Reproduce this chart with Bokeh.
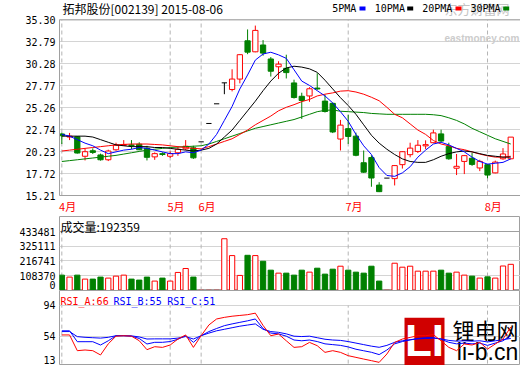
from bokeh.plotting import figure
from bokeh.layouts import column
from bokeh.models import (Range1d, FixedTicker, Label, BoxAnnotation, Span,
                          PrintfTickFormatter)
from bokeh.embed import file_html
from bokeh.resources import INLINE

# ---------------- data ----------------
stock_title = "拓邦股份[002139] 2015-08-06"
ma_names = ["5PMA", "10PMA", "20PMA", "30PMA"]
month_labels = ["4月", "5月", "6月", "7月", "8月"]
month_pos = [0, 14, 18, 37, 55]
price_ticks = [15.21, 17.72, 20.23, 22.74, 25.26, 27.77, 30.28, 32.79, 35.30]
vol_ticks = [0, 108370, 216741, 325111, 433481]
rsi_ticks = [13, 54, 94]

open_ = [22.25, 21.9, 21.92, 19.70, 20.33, 19.85, 19.30, 20.44, 20.95, 21.0,
         21.08, 20.63, 19.63, 20.0, 19.7, 20.1, 20.55, 20.66, 21.35, 23.45,
         25.7, 28.1, 27.34, 28.53, 32.91, 31.65, 32.43, 30.83, 29.94, 29.76,
         28.09, 26.56, 26.6, 27.5, 26.01, 25.75, 21.67, 22.86, 22.0, 18.96,
         19.55, 16.4, 17.2, 17.14, 18.74, 19.88, 20.25, 20.89, 21.25, 22.26,
         20.81, 18.33, 19.11, 19.47, 18.36, 18.74, 17.80, 19.41, 19.41]
high = [22.4, 22.37, 22.0, 20.59, 20.6, 20.0, 20.45, 21.25, 21.55, 21.55,
        21.3, 20.89, 20.14, 20.15, 20.25, 20.8, 21.55, 20.9, 21.35, 23.45,
        25.7, 28.1, 29.65, 31.4, 34.21, 34.65, 32.99, 31.05, 30.57, 31.32,
        28.46, 26.97, 27.6, 29.2, 26.75, 25.85, 23.86, 24.45, 22.4, 20.36,
        19.81, 16.73, 17.2, 18.7, 20.3, 21.25, 21.55, 21.52, 22.74, 22.74,
        21.25, 19.96, 19.85, 20.07, 19.3, 18.8, 19.2, 20.63, 21.89]
low = [21.1, 21.55, 20.0, 19.22, 19.96, 19.2, 19.15, 20.33, 20.89, 20.52,
       20.4, 19.22, 19.29, 19.75, 19.5, 19.75, 20.4, 19.4, 21.35, 23.45,
       25.7, 26.8, 27.12, 28.04, 31.38, 31.6, 31.2, 28.82, 28.53, 28.6,
       26.3, 23.97, 25.93, 27.3, 24.7, 22.35, 20.36, 21.11, 19.7, 17.8,
       16.21, 15.6, 17.2, 16.36, 18.29, 19.58, 20.07, 20.52, 21.2, 21.3,
       19.3, 17.55, 17.66, 18.6, 18.0, 17.18, 17.75, 19.3, 19.35]
close_ = [22.05, 22.0, 20.07, 20.22, 20.14, 19.3, 20.3, 20.96, 21.05, 20.92,
          20.44, 19.58, 20.0, 19.9, 20.0, 20.5, 20.85, 19.52, 21.35, 23.45,
          25.7, 28.1, 28.53, 31.32, 31.61, 34.10, 31.5, 29.43, 30.24, 29.27,
          26.42, 26.08, 27.42, 27.4, 24.82, 22.48, 23.26, 21.97, 19.81, 17.88,
          17.21, 15.65, 17.2, 18.63, 20.22, 20.63, 20.96, 21.03, 22.37, 21.44,
          19.41, 18.55, 19.77, 18.77, 19.11, 17.55, 19.03, 19.96, 21.89]
volume = [112900, 98400, 112900, 83800, 83800, 98400, 91100, 105600, 112900, 83800,
          76500, 98400, 69200, 91100, 69200, 132600, 161700, 98400, 1500, 1500,
          1500, 380300, 256500, 110700, 258600, 256500, 214900, 149400, 127500, 127500,
          112900, 149400, 134800, 163900, 120200, 156600, 178500, 149400, 134800, 127500,
          178500, 69200, 1500, 200400, 171200, 178500, 142100, 142100, 142100, 149400,
          127500, 134800, 112900, 105600, 91100, 100500, 91100, 180000, 192359]
ma5 = [22.2, 22.0, 21.6, 21.2, 20.9, 20.4, 20.0, 20.2, 20.4, 20.5,
       20.7, 20.6, 20.4, 20.2, 20.0, 20.0, 20.2, 20.1, 20.4, 21.1,
       22.2, 23.8, 25.4, 27.4, 29.0, 30.7, 31.4, 31.6, 31.3, 30.9,
       29.6, 28.3, 27.8, 27.2, 26.6, 25.8, 24.8, 23.7, 22.2, 20.9,
       19.9, 18.4, 17.5, 17.4, 17.8, 18.5, 19.6, 20.4, 21.1, 21.3,
       21.0, 20.6, 20.2, 19.6, 19.1, 18.8, 18.9, 19.0, 19.4]
ma10 = [22.0, 22.0, 22.0, 22.0, 21.9, 21.6, 21.3, 21.0, 20.9, 20.8,
        20.8, 20.8, 20.7, 20.7, 20.6, 20.5, 20.4, 20.3, 20.4, 20.6,
        21.1, 21.9, 22.7, 23.8, 24.9, 26.0, 27.2, 28.3, 29.2, 29.8,
        30.0, 29.9, 29.7, 29.3, 28.4, 27.4, 26.4, 25.5, 24.5, 23.3,
        22.1, 21.2, 20.5, 19.9, 19.4, 19.1, 19.0, 19.0, 19.3, 19.7,
        20.0, 20.2, 20.3, 20.2, 20.0, 19.8, 19.7, 19.6, 19.6]
ma20 = [20.3, 20.4, 20.5, 20.6, 20.7, 20.8, 20.9, 21.0, 21.05, 21.1,
        21.1, 21.1, 21.05, 21.0, 20.9, 20.8, 20.7, 20.6, 20.55, 20.8,
        21.1, 21.4, 21.7, 22.2, 22.7, 23.3, 23.8, 24.3, 24.9, 25.3,
        25.6, 25.95, 26.2, 26.6, 26.8, 26.95, 27.15, 27.2, 27.05, 26.8,
        26.45, 26.05, 25.3, 24.5, 24.1, 23.4, 22.7, 22.2, 21.5, 21.1,
        20.9, 20.6, 20.45, 20.2, 19.95, 19.75, 19.6, 19.6, 19.7]
ma30 = [19.1, 19.2, 19.3, 19.4, 19.5, 19.6, 19.7, 19.8, 19.95, 20.1,
        20.25, 20.4, 20.5, 20.6, 20.7, 20.75, 20.8, 20.85, 20.9, 21.1,
        21.4, 21.7, 22.0, 22.3, 22.6, 22.9, 23.1, 23.3, 23.5, 23.7,
        23.9, 24.2, 24.5, 24.8, 24.95, 25.0, 24.85, 24.8, 24.75, 24.7,
        24.6, 24.55, 24.5, 24.5, 24.5, 24.5, 24.5, 24.5, 24.45, 24.35,
        24.1, 23.8, 23.4, 22.9, 22.5, 22.1, 21.7, 21.4, 21.1]
rsi_a = [55.6, 55.6, 35.1, 36.0, 35.1, 29.5, 44.0, 54.0, 54.6, 54.0,
         48.1, 36.4, 40.3, 39.4, 42.5, 50.3, 55.6, 39.4, 54.6, 68.6,
         76.4, 78.5, 80.0, 81.0, 82.0, 84.0, 68.0, 54.6, 56.8, 48.0,
         39.4, 40.3, 45.9, 41.6, 32.9, 35.1, 32.9, 28.6, 26.4, 24.2,
         22.1, 19.9, 30.8, 45.9, 50.3, 52.4, 54.6, 54.6, 56.0, 48.0,
         39.4, 35.1, 43.8, 42.5, 45.9, 37.2, 43.8, 50.3, 66.0]
rsi_b = [61, 61, 46.8, 46.8, 46.8, 42.5, 48, 54.6, 54.6, 54,
         51, 43.8, 46, 46, 47, 50, 54.6, 46, 54.6, 60,
         64, 67.7, 70, 72, 74, 76.4, 64, 58, 57, 54,
         49, 48, 49, 47, 44, 43, 42, 40, 37, 35,
         33, 30, 36, 44, 47, 49, 51, 52, 52, 50,
         46, 44, 45, 44, 45, 42, 45, 48, 55]
rsi_c = [60, 60, 53.4, 52.5, 52, 51.5, 52.5, 54.6, 54.6, 54.4,
         53, 50.3, 50.5, 50.5, 50.5, 51.5, 53.5, 50.3, 54.6, 58,
         61, 63, 65, 67, 68.5, 70, 63, 60, 59, 57,
         54, 53.5, 54, 52, 50, 49, 48.5, 47, 45, 43,
         41, 39.5, 42, 46, 48, 49.5, 50.5, 51, 51.5, 50.5,
         48.5, 47.5, 48, 47.5, 48, 46.5, 48, 49.5, 51]

# ---------------- styling ----------------
RED = "#ff0000"
GREEN = "#008000"
BLUE = "#0000ff"
GRID = "#d4d4d4"
FRAME = "#a0a0a0"
DASH = "#b4b4b4"
MONO = "DejaVu Sans Mono"
CJK = "Noto Sans CJK SC"
HW = 0.34  # half candle width in days

n = len(close_)
idx = list(range(n))
xr = Range1d(-0.3, 59.26)


def base(h, yr, top, bottom, outline=True):
    p = figure(width=520, height=h, x_range=xr, y_range=yr, title=None,
               output_backend="svg", toolbar_location=None,
               min_border_left=59, min_border_right=0,
               min_border_top=top, min_border_bottom=bottom)
    p.outline_line_color = FRAME if outline else None
    p.background_fill_color = "white"
    p.border_fill_color = "white"
    ax = p.yaxis[0]
    ax.axis_line_color = None
    ax.major_tick_line_color = None
    ax.minor_tick_line_color = None
    ax.major_tick_out = 0
    ax.major_tick_in = 0
    ax.minor_tick_out = 0
    ax.major_label_standoff = 4
    ax.major_label_text_font = MONO
    ax.major_label_text_font_size = "10px"
    ax.major_label_text_color = "black"
    p.ygrid.grid_line_color = GRID
    p.xgrid.grid_line_color = None
    return p


def label(p, fx, fy, text, color="black", size="12px", font=CJK,
          style="normal", align="left", level="annotation"):
    p.add_layout(Label(x=fx, y=fy, x_units="screen", y_units="screen", text=text,
                       text_color=color, text_font_size=size, text_font=font,
                       text_font_style=style, text_align=align,
                       text_baseline="middle", level=level))


# ---------------- price panel ----------------
# frame reaches the top of the page so the header texts sit inside it
px_per_unit = 181 / (price_ticks[-1] - price_ticks[0])
p1 = base(216, Range1d(price_ticks[0], price_ticks[-1] + 20 / px_per_unit), 0, 15,
          outline=False)
p1.yaxis.ticker = FixedTicker(ticks=price_ticks)
p1.yaxis.formatter = PrintfTickFormatter(format="%.2f")
p1.yaxis.bounds = (price_ticks[0], price_ticks[-1])
p1.yaxis.axis_line_color = FRAME
p1.ygrid.ticker = FixedTicker(ticks=price_ticks)
p1.add_layout(Span(location=price_ticks[-1], dimension="width", line_color=FRAME,
                   line_width=1))
p1.segment(x0=month_pos, y0=[price_ticks[0]] * len(month_pos), x1=month_pos,
           y1=[price_ticks[-1]] * len(month_pos), line_color=DASH, line_dash="4 3")
xa = p1.xaxis[0]
lab_ticks = [m + 0.75 for m in month_pos]
xa.ticker = FixedTicker(ticks=lab_ticks)
xa.major_label_overrides = {t: s for t, s in zip(lab_ticks, month_labels)}
xa.axis_line_color = FRAME
xa.major_tick_line_color = None
xa.minor_tick_line_color = None
xa.major_tick_out = 0
xa.major_tick_in = 0
xa.major_label_standoff = 2
xa.major_label_text_font = CJK
xa.major_label_text_font_size = "11px"
xa.major_label_text_color = RED

# watermark (eastmoney), drawn first so the legend lies on top of it
label(p1, 385, 187, "东方财富网", color="#c4c4c4", size="13px")
label(p1, 385, 157.5, "eastmoney.com", color="#cccccc", size="10px", font="Liberation Sans",
      style="bold")

up_i = [i for i in idx if close_[i] > open_[i]]
dn_i = [i for i in idx if close_[i] < open_[i]]
fl_i = [i for i in idx if close_[i] == open_[i]]

# red (up) candles: hollow
p1.segment(x0=up_i, y0=[high[i] for i in up_i], x1=up_i,
           y1=[close_[i] for i in up_i], line_color=RED, line_width=1)
p1.segment(x0=up_i, y0=[open_[i] for i in up_i], x1=up_i,
           y1=[low[i] for i in up_i], line_color=RED, line_width=1)
p1.quad(left=[i - HW for i in up_i], right=[i + HW for i in up_i],
        top=[close_[i] for i in up_i], bottom=[open_[i] for i in up_i],
        fill_color="white", line_color=RED, line_width=1)
# green (down) candles: filled
p1.segment(x0=dn_i, y0=[high[i] for i in dn_i], x1=dn_i,
           y1=[low[i] for i in dn_i], line_color=GREEN, line_width=1)
p1.quad(left=[i - HW for i in dn_i], right=[i + HW for i in dn_i],
        top=[open_[i] for i in dn_i], bottom=[close_[i] for i in dn_i],
        fill_color=GREEN, line_color=GREEN, line_width=1)
# flat candles: black
p1.segment(x0=fl_i, y0=[high[i] for i in fl_i], x1=fl_i,
           y1=[low[i] for i in fl_i], line_color="black", line_width=1)
p1.segment(x0=[i - HW for i in fl_i], y0=[open_[i] for i in fl_i],
           x1=[i + HW for i in fl_i], y1=[open_[i] for i in fl_i],
           line_color="black", line_width=1)

# moving averages
p1.line(idx, ma30, line_color=GREEN, line_width=1)
p1.line(idx, ma20, line_color=RED, line_width=1)
p1.line(idx, ma10, line_color="black", line_width=1)
p1.line(idx, ma5, line_color=BLUE, line_width=1)

# header title and legend
label(p1, 3, 187, stock_title, size="12px")
legend_x = [272.7, 315.3, 362.7, 411.0]
mark_x = [300.0, 347.7, 396.0, 443.7]
ma_colors = [BLUE, "black", RED, GREEN]
for nm, tx, mx, col in zip(ma_names, legend_x, mark_x, ma_colors):
    label(p1, tx, 187, nm, font=MONO, size="10px")
    p1.add_layout(BoxAnnotation(left=mx, right=mx + 6, top=189, bottom=185,
                                left_units="screen", right_units="screen",
                                top_units="screen", bottom_units="screen",
                                fill_color=col, fill_alpha=1.0, line_color=None))

# ---------------- volume panel ----------------
vol_top = vol_ticks[-1] * 74 / 59
p2 = base(74, Range1d(0, vol_top), 0, 0)
p2.xaxis.visible = False
zero_lab = 40400
p2.yaxis.ticker = FixedTicker(ticks=[zero_lab] + vol_ticks[1:])
p2.yaxis.formatter = PrintfTickFormatter(format="%d")
p2.yaxis.major_label_overrides = {zero_lab: "0"}
p2.ygrid.ticker = FixedTicker(ticks=vol_ticks)
p2.add_layout(Span(location=vol_ticks[-1], dimension="width", line_color=FRAME, line_width=1))
p2.segment(x0=month_pos, y0=[0] * len(month_pos), x1=month_pos,
           y1=[vol_ticks[-1]] * len(month_pos), line_color=DASH, line_dash="4 3")
vu = [i for i in idx if close_[i] >= open_[i]]
vd = [i for i in idx if close_[i] < open_[i]]
p2.quad(left=[i - HW for i in vu], right=[i + HW for i in vu],
        top=[volume[i] for i in vu], bottom=[0] * len(vu),
        fill_color="white", line_color=RED, line_width=1)
p2.quad(left=[i - HW for i in vd], right=[i + HW for i in vd],
        top=[volume[i] for i in vd], bottom=[0] * len(vd),
        fill_color=GREEN, line_color=GREEN, line_width=1)
label(p2, 1, 64, "成交量:%d" % volume[-1], size="12px")

# ---------------- RSI panel ----------------
p3 = base(75, Range1d(15.8, 113.5), 0, 0)
p3.xaxis.visible = False
rsi_lab13 = 23.2
p3.yaxis.ticker = FixedTicker(ticks=[rsi_lab13, 54, 94])
p3.yaxis.formatter = PrintfTickFormatter(format="%d")
p3.yaxis.major_label_overrides = {rsi_lab13: "13"}
p3.ygrid.ticker = FixedTicker(ticks=rsi_ticks)
p3.segment(x0=month_pos, y0=[0] * len(month_pos), x1=month_pos,
           y1=[rsi_ticks[-1]] * len(month_pos), line_color=DASH, line_dash="4 3")

# li-b.cn watermark
p3.add_layout(BoxAnnotation(left=345, right=385, top=47.7, bottom=-2,
                            left_units="screen", right_units="screen",
                            top_units="screen", bottom_units="screen",
                            fill_color="#d00000", fill_alpha=1.0, line_color=None,
                            level="underlay"))
label(p3, 365, 25, "LI", color="white", size="44px", font="Liberation Sans",
      style="bold", align="center", level="underlay")
label(p3, 426, 36.5, "锂电网", size="22px", align="center", level="underlay")
label(p3, 428, 13.5, "li-b.cn", size="23px", font="Liberation Sans", align="center",
      level="underlay")

p3.line(idx, rsi_c, line_color=BLUE, line_width=1)
p3.line(idx, rsi_b, line_color=BLUE, line_width=1)
p3.line(idx, rsi_a, line_color=RED, line_width=1)
label(p3, 1, 64.5, "RSI_A:%d" % round(rsi_a[-1]), color=RED, font=MONO, size="10px")
label(p3, 54, 64.5, "RSI_B:%d" % round(rsi_b[-1]), color=BLUE, font=MONO, size="10px")
label(p3, 107.7, 64.5, "RSI_C:%d" % round(rsi_c[-1]), color=BLUE, font=MONO, size="10px")

layout = column(p1, p2, p3, spacing=0)
with open("out.html", "w", encoding="utf-8") as f:
    f.write(file_html(layout, INLINE))
